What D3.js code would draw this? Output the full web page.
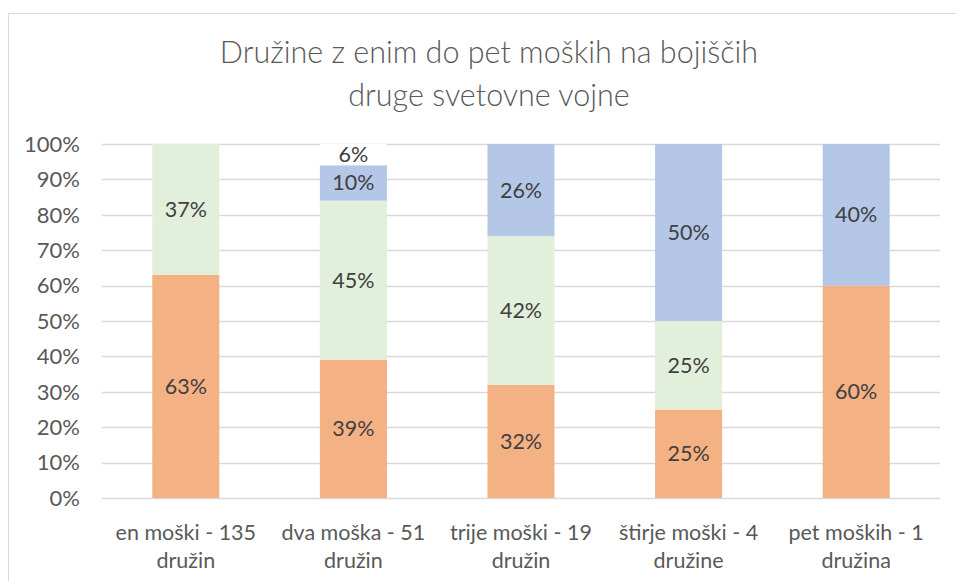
<!DOCTYPE html>
<html><head><meta charset="utf-8">
<script src="https://cdn.jsdelivr.net/npm/d3@7"></script>
<style>body{margin:0;background:#fff}svg{display:block}</style>
</head><body>
<svg id="c" width="956" height="581"></svg>
<script>
const categories = [["en moški - 135","družin"],["dva moška - 51","družin"],["trije moški - 19","družin"],["štirje moški - 4","družine"],["pet moških - 1","družina"]];
const series1 = [63,39,32,25,60];
const series2 = [37,45,42,25,0];
const series3 = [0,10,26,50,40];
const series4 = [0,6,0,0,0];
const seriesNames = ["s1","s2","s3","s4"];
const colors = ["#F4B183","#E2EFDA","#B4C7E7","#FFFFFF"];
const yTicks = [0,10,20,30,40,50,60,70,80,90,100];
const titleLines = ["Družine z enim do pet moških na bojiščih","druge svetovne vojne"];

const svg = d3.select("#c");
const font = "Lato, 'Open Sans', sans-serif";
svg.append("rect").attr("x",8.5).attr("y",13.5).attr("width",960).attr("height",600)
  .attr("fill","none").attr("stroke","#d9d9d9").attr("stroke-width",1);

const m = {l:102, r:940, t:144, b:498};
const x = d3.scaleBand().domain(d3.range(categories.length)).range([m.l,m.r]).paddingInner(0.6).paddingOuter(0.3);
const y = d3.scaleLinear().domain([0,100]).range([m.b,m.t]);

const rows = categories.map((c,i)=>({i, s1:series1[i], s2:series2[i], s3:series3[i], s4:series4[i]}));
const stack = d3.stack().keys(seriesNames)(rows);

svg.append("g").selectAll("line").data(yTicks).join("line")
  .attr("x1",m.l).attr("x2",m.r).attr("y1",d=>Math.round(y(d))+0.5).attr("y2",d=>Math.round(y(d))+0.5)
  .attr("stroke","#d9d9d9").attr("stroke-width",1.5);

svg.append("g").selectAll("text").data(yTicks).join("text")
  .attr("x",80).attr("y",d=>y(d)).attr("dy","0.35em").attr("text-anchor","end")
  .attr("font-family",font).attr("font-size",22).attr("fill","#595959").text(d=>d+"%");

stack.forEach((layer,k)=>{
  svg.append("g").selectAll("rect").data(layer).join("rect")
    .attr("x",d=>x(d.data.i)).attr("width",x.bandwidth())
    .attr("y",d=>y(d[1])).attr("height",d=>y(d[0])-y(d[1]))
    .attr("fill",colors[k]);
});
stack.forEach((layer,k)=>{
  svg.append("g").selectAll("text").data(layer.filter(d=>d[1]-d[0]>0)).join("text")
    .attr("x",d=>x(d.data.i)+x.bandwidth()/2).attr("y",d=>y((d[0]+d[1])/2)).attr("dy","0.35em")
    .attr("text-anchor","middle").attr("font-family",font).attr("font-size",21.5).attr("fill","#404040")
    .text(d=>(d[1]-d[0])+"%");
});

const xl = svg.append("g");
categories.forEach((c,i)=>{
  c.forEach((t,j)=>{
    xl.append("text").attr("x",x(i)+x.bandwidth()/2).attr("y",532+j*28).attr("dy","0.35em")
      .attr("text-anchor","middle").attr("font-family",font).attr("font-size",21.5).attr("fill","#595959").text(t);
  });
});

titleLines.forEach((t,j)=>{
  svg.append("text").attr("x",489).attr("y",52+j*43).attr("dy","0.35em").attr("text-anchor","middle")
    .attr("font-family",font).attr("font-weight",300).attr("font-size",30.5).attr("fill","#595959").text(t);
});
</script>
</body></html>
